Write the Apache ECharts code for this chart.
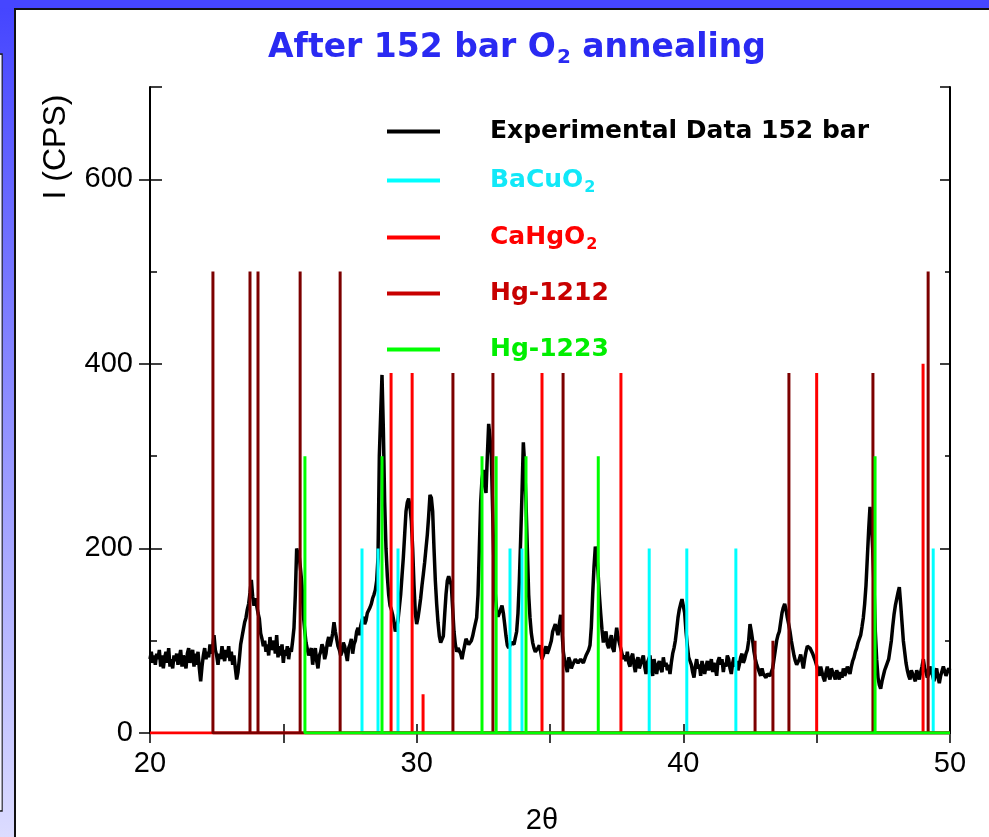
<!DOCTYPE html>
<html>
<head>
<meta charset="utf-8">
<title>After 152 bar O2 annealing</title>
<script src="https://cdn.jsdelivr.net/npm/echarts@6/dist/echarts.min.js"></script>
<style>
  html, body { margin: 0; padding: 0; background: #ffffff; }
  #chart { width: 989px; height: 837px; }
</style>
</head>
<body>
<div id="chart"></div>
<script>
// XRD scan after 152 bar O2 annealing, 2θ from 20° to 50° sampled every 0.05°
const scanStart = 20;
const scanEnd = 50;
const scanStep = 0.05;

// Measured intensity (CPS), one row of 20 samples per degree
const intensity = [
  80, 88, 76, 84, 74, 86, 80, 90, 72, 84, 70, 82, 88, 76, 92, 72, 80, 70, 84, 78,            // 20
  86, 74, 82, 90, 72, 84, 78, 70, 86, 92, 76, 84, 90, 72, 86, 74, 88, 70, 56, 72,            // 21
  84, 92, 80, 88, 82, 96, 86, 92, 106, 90, 84, 74, 86, 80, 94, 84, 78, 90, 82, 94,           // 22
  78, 88, 74, 84, 70, 58, 66, 80, 96, 104, 112, 120, 125, 134, 140, 152, 166, 148, 138, 146, // 23
  145, 130, 124, 108, 102, 94, 100, 88, 96, 84, 104, 90, 92, 100, 86, 106, 82, 94, 84, 96,   // 24
  76, 90, 84, 94, 80, 92, 88, 100, 114, 150, 200, 194, 190, 176, 160, 128, 112, 98, 96, 84,  // 25
  82, 92, 74, 86, 92, 78, 70, 84, 88, 96, 92, 80, 86, 98, 104, 94, 100, 108, 120, 110,       // 26
  108, 94, 90, 84, 88, 98, 94, 86, 78, 92, 96, 102, 86, 96, 100, 110, 114, 106, 116, 122,    // 27
  126, 118, 122, 130, 132, 136, 140, 146, 150, 155, 165, 190, 300, 345, 388, 330, 250, 200, 170, 150, // 28
  138, 134, 128, 120, 110, 114, 122, 136, 150, 170, 190, 215, 240, 250, 254, 245, 230, 200, 160, 130, // 29
  118, 125, 135, 146, 160, 172, 185, 200, 215, 235, 258, 255, 240, 200, 165, 140, 120, 105, 98, 96,   // 30
  105, 128, 150, 165, 170, 168, 160, 135, 110, 96, 88, 92, 92, 86, 80, 88, 95, 102, 100, 96,          // 31
  96, 100, 105, 112, 110, 125, 150, 200, 250, 275, 285, 270, 260, 300, 335, 320, 300, 240, 180, 150,  // 32
  132, 126, 128, 134, 138, 130, 118, 105, 95, 92, 92, 98, 100, 96, 98, 110, 130, 165, 210, 260,       // 33
  315, 290, 250, 200, 150, 125, 108, 98, 92, 88, 86, 92, 95, 88, 80, 84, 90, 94, 86, 90,              // 34
  92, 100, 110, 114, 118, 112, 106, 118, 128, 110, 88, 78, 72, 66, 82, 78, 70, 74, 76, 80,            // 35
  80, 76, 74, 80, 82, 76, 78, 84, 84, 90, 95, 115, 150, 180, 202, 195, 175, 150, 130, 112,            // 36
  98, 106, 110, 96, 92, 100, 106, 92, 88, 102, 114, 104, 98, 92, 86, 80, 84, 78, 88, 76,              // 37
  72, 82, 86, 74, 66, 78, 82, 70, 68, 80, 84, 72, 64, 76, 78, 84, 68, 62, 80, 72,                     // 38
  64, 74, 78, 70, 66, 82, 72, 76, 68, 74, 64, 76, 86, 92, 100, 112, 125, 134, 140, 145,               // 39
  145, 130, 110, 95, 82, 78, 74, 66, 60, 72, 80, 70, 74, 62, 78, 80, 64, 72, 78, 68,                  // 40
  72, 80, 66, 76, 70, 62, 78, 82, 74, 80, 66, 76, 72, 84, 80, 70, 64, 76, 82, 72,                     // 41
  78, 68, 74, 82, 86, 76, 80, 86, 90, 100, 118, 110, 100, 88, 80, 74, 76, 66, 62, 70,                 // 42
  64, 62, 60, 64, 66, 62, 62, 70, 80, 90, 100, 106, 110, 120, 130, 136, 140, 134, 125, 118,           // 43
  110, 100, 92, 84, 78, 74, 72, 80, 85, 78, 70, 80, 88, 94, 96, 92, 90, 86, 82, 78,                   // 44
  78, 68, 62, 72, 74, 60, 56, 66, 72, 62, 58, 70, 72, 62, 58, 68, 64, 58, 66, 60,                     // 45
  70, 62, 66, 72, 74, 64, 72, 78, 82, 88, 92, 98, 100, 106, 115, 125, 140, 160, 190, 220,             // 46
  245, 230, 200, 160, 110, 80, 60, 52, 48, 56, 62, 68, 72, 76, 80, 90, 100, 115, 128, 138,            // 47
  145, 152, 158, 140, 120, 100, 88, 76, 68, 62, 58, 68, 70, 60, 56, 68, 64, 58, 66, 72,               // 48
  80, 70, 66, 60, 64, 72, 74, 62, 56, 66, 70, 60, 54, 62, 64, 72, 70, 62, 66, 70,                     // 49
  68                                                                                                  // 50
];

// Reference reflections (2θ positions and stick heights)
const bacuo2Pos = [27.95, 28.55, 29.30, 33.50, 33.95, 38.72, 40.13, 41.97, 49.37];
const bacuo2Hgt = [200, 200, 200, 200, 200, 200, 200, 200, 200];

const cahgo2Pos = [29.04, 29.83, 30.24, 34.70, 37.66, 45.00, 48.99];
const cahgo2Hgt = [390, 390, 42, 390, 390, 390, 400];

const hg1212Pos = [22.36, 23.75, 24.05, 25.63, 27.13, 31.36, 32.86, 35.49, 42.69, 43.36, 43.96, 47.11, 49.18];
const hg1212Hgt = [500, 500, 500, 500, 500, 390, 390, 390, 100, 100, 390, 390, 500];

const hg1223Pos = [25.81, 28.70, 32.45, 32.98, 34.10, 36.81, 47.19];
const hg1223Hgt = [300, 300, 300, 300, 300, 300, 300];

const seriesNames = ['Experimental Data 152 bar', 'BaCuO2', 'CaHgO2', 'Hg-1212', 'Hg-1223'];
const yTicks = [0, 200, 400, 600];
const xTicks = [20, 30, 40, 50];

// pair each intensity with its 2θ
const scanData = intensity.map((v, i) => [+(scanStart + i * scanStep).toFixed(2), v]);

// a stick pattern drawn as one polyline: baseline -> peak -> baseline
function sticks(pos, hgt, from, to) {
  const pts = [];
  if (from != null) pts.push([from, 0]);
  pos.forEach((p, i) => { pts.push([p, 0], [p, hgt[i]], [p, 0]); });
  if (to != null) pts.push([to, 0]);
  return pts;
}

const FONT_SANS = '"Liberation Sans", Arial, sans-serif';
const FONT_BOLD = '"DejaVu Sans", Verdana, sans-serif';

const colBlack = '#000000';
const colCyan = '#00ffff';
const colRed = '#ff0000';
const colMaroon = '#7c0000';
const colGreen = '#00ff00';

const chart = echarts.init(document.getElementById('chart'), null, { renderer: 'canvas' });

function lineSeries(name, data, color, width) {
  return {
    name: name,
    type: 'line',
    xAxisIndex: 0,
    yAxisIndex: 0,
    data: data,
    symbol: 'none',
    showSymbol: false,
    lineStyle: { color: color, width: width },
    itemStyle: { color: color },
    emphasis: { disabled: true },
    animation: false
  };
}

// legend text: main token plus an optional lowered "2"
function legendRich(color) {
  return {
    sp: { width: 45 },
    t: { color: color, fontSize: 25, fontWeight: 'bold', fontFamily: FONT_BOLD, lineHeight: 30 },
    s: { color: color, fontSize: 16, fontWeight: 'bold', fontFamily: FONT_BOLD, lineHeight: 16, verticalAlign: 'bottom', padding: [0, 0, 0, 1] }
  };
}

const legendLabels = {
  'Experimental Data 152 bar': '{sp|}{t|Experimental Data 152 bar}',
  'BaCuO2': '{sp|}{t|BaCuO}{s|2}',
  'CaHgO2': '{sp|}{t|CaHgO}{s|2}',
  'Hg-1212': '{sp|}{t|Hg-1212}',
  'Hg-1223': '{sp|}{t|Hg-1223}'
};

const legendIconColors = [colBlack, colCyan, colRed, '#c80000', colGreen];
const legendTextColors = ['#000000', '#11e8f8', '#ff0000', '#c80000', '#00ee00'];
const legendRowTops = [119, 168, 225, 281, 337];

const legends = seriesNames.map((n, i) => ({
  orient: 'vertical',
  left: 387,
  top: legendRowTops[i],
  padding: 0,
  itemWidth: 53,
  itemHeight: 4,
  selectedMode: false,
  data: [{
    name: n,
    icon: 'rect',
    itemStyle: { color: legendIconColors[i] },
    lineStyle: { color: legendIconColors[i], width: 4 }
  }],
  formatter: name => legendLabels[name],
  textStyle: { rich: legendRich(legendTextColors[i]) }
}));

function tickAxisY(position, interval, inside, length, extra) {
  return Object.assign({
    type: 'value', gridIndex: 0, position: position, min: 0, max: 700, interval: interval,
    axisLine: { show: false },
    axisTick: { show: true, inside: inside, length: length, lineStyle: { color: '#000', width: 1.5 } },
    axisLabel: { show: false },
    splitLine: { show: false }
  }, extra || {});
}

function tickAxisX(position, interval, inside, length, extra) {
  return Object.assign({
    type: 'value', gridIndex: 0, position: position, min: 20, max: 50, interval: interval,
    axisLine: { show: false },
    axisTick: { show: true, inside: inside, length: length, lineStyle: { color: '#000', width: 1.5 } },
    axisLabel: { show: false },
    splitLine: { show: false }
  }, extra || {});
}

const option = {
  backgroundColor: 'transparent',
  animation: false,
  title: {
    text: '{a|After 152 bar O}{s|2}{a| annealing}',
    left: 263,
    top: 23,
    textStyle: {
      rich: {
        a: { color: '#2a2af2', fontSize: 33, fontWeight: 'bold', fontFamily: FONT_BOLD, lineHeight: 40 },
        s: { color: '#2a2af2', fontSize: 20, fontWeight: 'bold', fontFamily: FONT_BOLD, lineHeight: 20, verticalAlign: 'bottom', padding: [0, 0, 0, 1] }
      }
    }
  },
  legend: legends,
  grid: {
    left: 150, right: 39, top: 87, bottom: 104,
    show: false
  },
  graphic: [
    // slide backdrop behind the plot panel
    {
      type: 'rect', z: -100, silent: true,
      shape: { x: 0, y: 0, width: 989, height: 837 },
      style: {
        fill: new echarts.graphic.LinearGradient(0, 0, 0, 1, [
          { offset: 0, color: '#4444ff' },
          { offset: 1, color: '#dcdcff' }
        ])
      }
    },
    {
      type: 'rect', z: -100, silent: true,
      shape: { x: 0, y: 0, width: 989, height: 8 },
      style: { fill: '#4646ff' }
    },
    {
      type: 'rect', z: -99, silent: true,
      shape: { x: 15, y: 9, width: 980, height: 840 },
      style: { fill: '#ffffff', stroke: '#111111', lineWidth: 2 }
    },
    {
      type: 'polyline', z: -99, silent: true,
      shape: { points: [[0, 54], [2, 54], [2, 811], [0, 811]] },
      style: { stroke: '#222222', lineWidth: 1.5, fill: null }
    },
    {
      type: 'rect', z: -99, silent: true,
      shape: { x: 0, y: 55, width: 1.5, height: 755 },
      style: { fill: '#f4f4ff' }
    },
    // axis titles
    {
      type: 'text', silent: true, z: 10,
      x: 40, y: 147, rotation: Math.PI / 2,
      style: {
        text: 'I (CPS)', fontSize: 32, fontFamily: FONT_SANS, fill: '#000',
        align: 'center', verticalAlign: 'top'
      }
    },
    {
      type: 'text', silent: true, z: 10,
      x: 542, y: 821,
      style: {
        text: '2θ', fontSize: 29, fontFamily: FONT_SANS, fill: '#000',
        align: 'center', verticalAlign: 'middle'
      }
    }
  ],
  xAxis: [
    {
      type: 'value', gridIndex: 0, position: 'bottom', min: 20, max: 50, interval: 10,
      axisLine: { show: true, onZero: false, lineStyle: { color: '#000', width: 2 } },
      axisTick: { show: true, inside: false, length: 10, lineStyle: { color: '#000', width: 1.5 } },
      axisLabel: { show: true, color: '#000', fontSize: 29, fontFamily: FONT_SANS, margin: 16,
        formatter: v => (xTicks.indexOf(v) >= 0 ? String(v) : '') },
      splitLine: { show: false }
    },
    tickAxisX('bottom', 5, true, 9),
    tickAxisX('top', 5, true, 10, { axisLine: { show: true, lineStyle: { color: '#000', width: 2 } } })
  ],
  yAxis: [
    {
      type: 'value', gridIndex: 0, position: 'left', min: 0, max: 700, interval: 200,
      axisLine: { show: true, onZero: false, lineStyle: { color: '#000', width: 2 } },
      axisTick: { show: true, inside: false, length: 11, lineStyle: { color: '#000', width: 1.5 } },
      axisLabel: { show: true, color: '#000', fontSize: 29, fontFamily: FONT_SANS, margin: 17,
        showMaxLabel: false,
        formatter: v => (yTicks.indexOf(v) >= 0 ? String(v) : '') },
      splitLine: { show: false }
    },
    tickAxisY('left', 100, true, 7),
    tickAxisY('left', 200, true, 12),
    tickAxisY('right', 100, true, 5, { axisLine: { show: true, lineStyle: { color: '#000', width: 2 } } }),
    tickAxisY('right', 200, true, 10)
  ],
  series: [
    lineSeries(seriesNames[0], scanData, colBlack, 3.5),
    lineSeries(seriesNames[1], sticks(bacuo2Pos, bacuo2Hgt, null, scanEnd), colCyan, 3),
    lineSeries(seriesNames[2], sticks(cahgo2Pos, cahgo2Hgt, scanStart, scanEnd), colRed, 3),
    lineSeries(seriesNames[3], sticks(hg1212Pos, hg1212Hgt, null, scanEnd), colMaroon, 3),
    lineSeries(seriesNames[4], sticks(hg1223Pos, hg1223Hgt, null, scanEnd), colGreen, 3)
  ]
};

chart.setOption(option);
</script>
</body>
</html>
